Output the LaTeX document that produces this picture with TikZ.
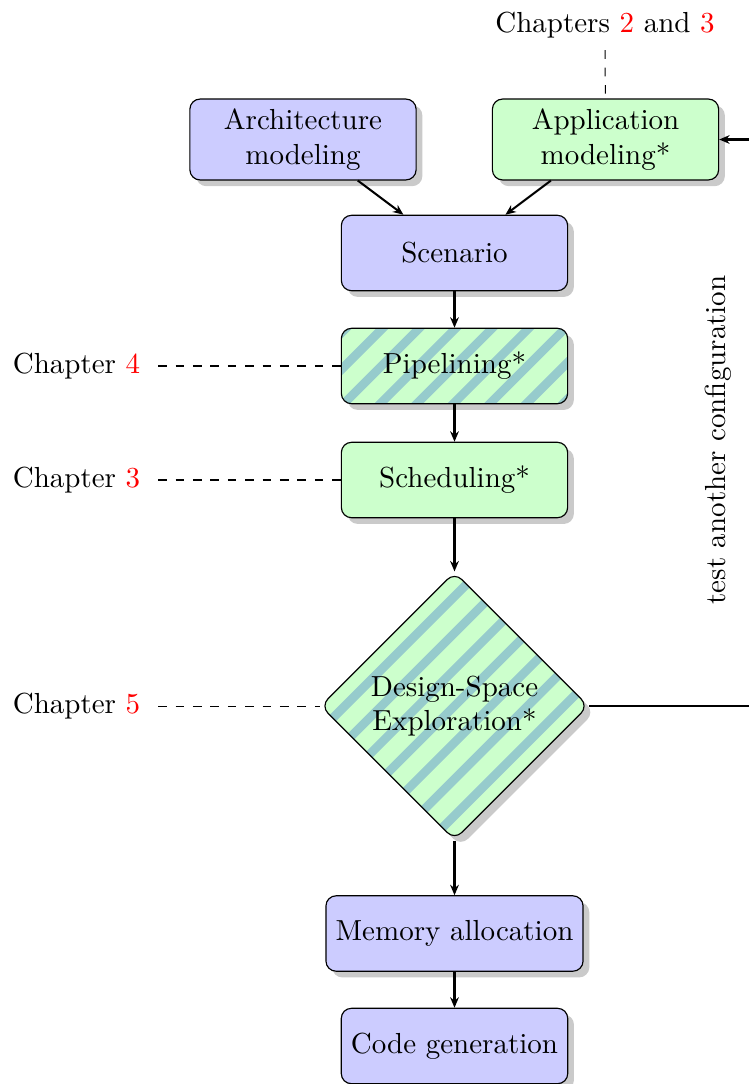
\documentclass[tikz,border=0pt]{standalone}
\usetikzlibrary{shapes.geometric,shadows,arrows.meta,calc}
\definecolor{stripecol}{RGB}{150,203,204}
\begin{document}
\begin{tikzpicture}[x=0.3448pt,y=-0.3448pt,
  box/.style={draw, rounded corners=3.5pt, minimum width=78pt, minimum height=26pt,
    align=center, drop shadow={opacity=0.42}},
  bluebox/.style={box, fill=blue!20},
  greenbox/.style={box, fill=green!20},
  striped/.style={path picture={
    \foreach \i in {-12,...,12}
      \draw[stripecol, line width=3pt]
        ($(path picture bounding box.center)+(\i*12.6pt-70pt,-70pt)$) -- ++(140pt,140pt);
  }},
  decision/.style={diamond, aspect=1, draw, fill=green!20, rounded corners=3.5pt,
    inner sep=1pt, minimum width=92.4pt, minimum height=92.4pt, align=center,
    drop shadow={opacity=0.42}},
  chlabel/.style={inner sep=6pt},
  conn/.style={line width=0.7pt, -{Stealth[length=3.6pt,width=3pt]}},
  guide/.style={dashed, line width=0.35pt}
]
\useasboundingbox (0,0) rectangle (749,1084);

\node[bluebox]  (arch)  at (303,139.5) {Architecture\\modeling};
\node[greenbox] (app)   at (605.5,139.5) {Application\\modeling*};
\node[bluebox]  (scen)  at (454.5,253) {Scenario};
\node[greenbox,striped] (pipe) at (454.5,366) {Pipelining*};
\node[greenbox] (sched) at (454.5,480) {Scheduling*};
\node[decision,striped] (dse) at (454.5,706) {Design-Space\\Exploration*};
\node[bluebox]  (mem)   at (454.5,933.5) {Memory allocation};
\node[bluebox]  (code)  at (454.5,1046) {Code generation};

\node[chlabel] (ch4) at (76.5,366) {Chapter \textcolor{red}{4}};
\node[chlabel] (ch3) at (76.5,480) {Chapter \textcolor{red}{3}};
\node[chlabel] (ch5) at (76.5,706) {Chapter \textcolor{red}{5}};
\node[inner sep=4pt] (ch23) at (605,25) {Chapters \textcolor{red}{2} and \textcolor{red}{3}};
\node[rotate=90] (cfg) at (718,440) {test another configuration};

\draw[guide] (ch4) -- (pipe);
\draw[guide] (ch3) -- (sched);
\draw[guide] (ch5) -- (dse);
\draw[guide] (ch23) -- (app);

\draw[conn] (arch) -- (scen);
\draw[conn] (app) -- (scen);
\draw[conn] (scen) -- (pipe);
\draw[conn] (pipe) -- (sched);
\draw[conn] (sched) -- (dse);
\draw[conn] (dse) -- (mem);
\draw[conn] (mem) -- (code);

\coordinate (fb) at (770,0);
\draw[conn] (dse.east) -- (dse.east -| fb) |- (app.east);
\end{tikzpicture}
\end{document}
